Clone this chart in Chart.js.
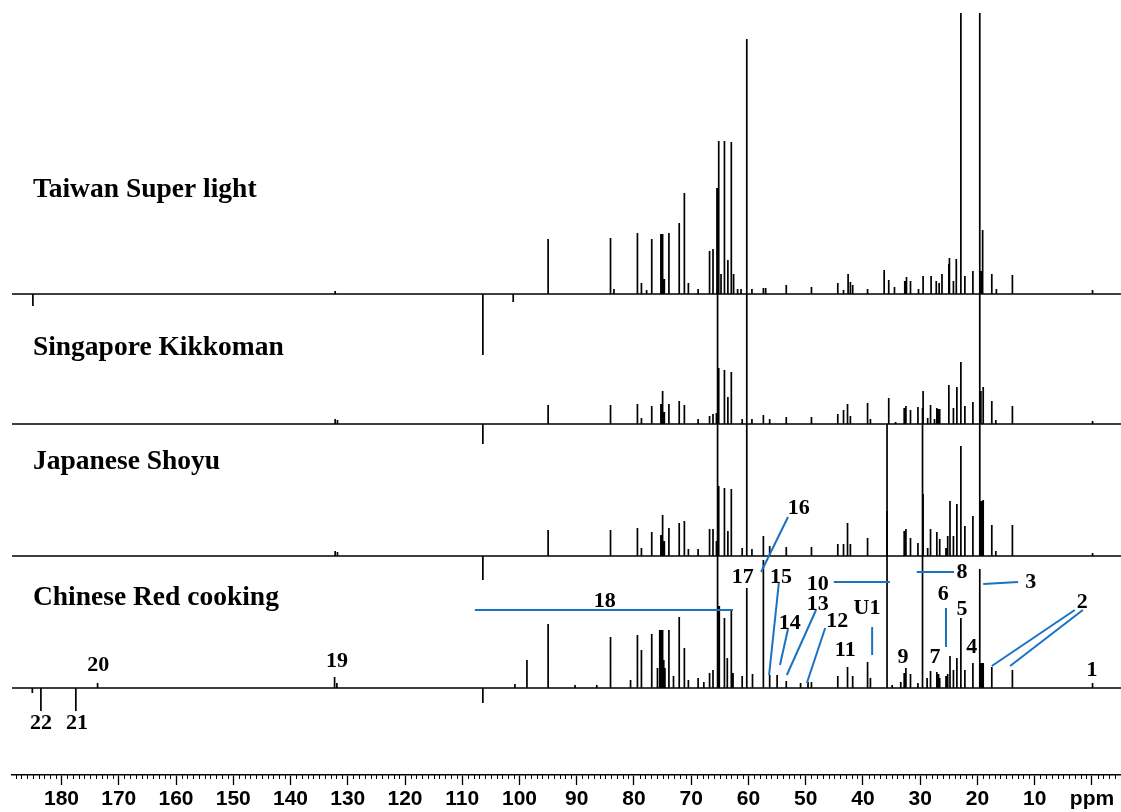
<!DOCTYPE html>
<html>
<head>
<meta charset="utf-8">
<title>13C NMR soy sauces</title>
<script src="https://cdn.jsdelivr.net/npm/chart.js@4.4.1/dist/chart.umd.min.js"></script>
<style>
  body { margin: 0; background: #fff; }
  canvas { display: block; }
</style>
</head>
<body>
<canvas id="nmr" width="1121" height="812"></canvas>
<script>
// trace names, top to bottom
const traceNames = ["Taiwan Super light", "Singapore Kikkoman", "Japanese Shoyu", "Chinese Red cooking"];

// peak positions (ppm) and intensities
const taiwanPpm = [185.0,132.2,106.4,101.1,95.0,84.1,83.5,79.4,78.7,77.8,76.9,75.3,75.0,74.7,73.9,72.1,71.2,70.5,68.8,66.8,66.2,65.5,65.2,64.8,64.2,63.6,63.0,62.6,61.9,61.3,59.4,57.4,57.0,53.4,49.0,44.4,43.4,42.6,42.2,41.8,39.2,36.3,35.5,34.5,32.7,32.4,31.7,30.3,29.5,28.1,27.2,26.7,26.2,25.0,24.9,24.2,23.7,22.9,22.2,20.8,19.4,19.1,17.5,16.7,13.9,-0.1];
const taiwanInt = [-12,3,-61,-8,55,56,5,61,11,4,55,60,60,15,61,71,101,11,5,43,45,106,153,20,153,34,152,20,5,5,5,6,6,9,7,11,4,20,12,9,5,24,14,7,13,17,13,5,18,18,13,11,20,30,36,13,35,281,18,23,23,64,20,5,19,4];

const singaporePpm = [132.2,131.8,106.4,95.0,84.1,79.4,78.7,76.9,75.3,75.0,74.7,73.9,72.1,71.2,68.8,66.8,66.2,65.6,65.2,64.2,63.6,63.0,61.1,59.4,57.4,56.3,53.4,49.0,44.4,43.4,42.7,42.2,39.2,38.7,35.5,34.3,32.8,32.5,31.7,30.4,29.5,28.7,28.2,27.5,27.1,26.8,26.6,25.0,24.2,23.6,22.9,22.2,20.8,19.4,19.0,17.5,16.8,13.9,-0.1];
const singaporeInt = [5,4,-20,19,19,20,6,18,20,33,12,20,23,19,5,8,10,11,56,54,27,52,5,5,9,5,7,7,10,14,20,8,21,5,26,2,16,18,14,17,33,6,19,5,16,15,15,39,16,37,62,18,22,33,37,23,4,18,3];

const japanesePpm = [132.2,131.8,106.4,95.0,84.1,79.4,78.7,76.9,75.3,75.0,74.7,73.9,72.1,71.2,70.5,68.8,66.8,66.2,65.6,65.2,64.2,63.6,63.0,61.1,60.3,59.4,57.4,56.3,53.4,49.0,44.4,43.4,42.7,42.2,39.2,35.8,32.8,32.5,31.7,30.4,29.5,28.7,28.2,27.1,26.6,25.5,25.2,24.8,24.2,23.6,22.9,22.2,20.8,19.6,19.3,19.0,17.5,16.8,13.9,-0.1];
const japaneseInt = [5,4,-24,26,26,28,8,24,21,41,15,28,33,35,7,7,27,27,15,70,68,25,67,8,517,7,20,10,9,9,12,12,33,12,18,45,25,27,18,13,62,8,27,24,17,8,20,55,20,52,110,30,40,543,55,56,31,5,31,3];

const chinesePpm = [185.1,183.6,177.5,173.7,132.3,131.9,106.4,100.8,98.7,95.0,90.3,86.5,84.1,80.6,79.4,78.7,76.9,75.9,75.5,75.3,75.0,74.8,74.6,73.9,73.1,72.1,71.2,70.5,68.8,67.8,66.8,66.2,65.4,65.1,64.2,63.7,63.0,62.7,61.1,60.3,59.3,57.4,56.3,55.0,53.4,50.9,49.6,49.0,44.4,42.7,41.8,39.2,38.7,35.8,34.9,33.4,32.8,32.5,31.7,30.4,29.6,28.8,28.2,27.1,26.8,26.6,25.5,25.2,24.8,24.2,23.6,22.9,22.2,20.8,19.6,19.3,19.0,17.5,13.9,-0.1];
const chineseInt = [-5,-23,-23,5,11,5,-15,4,28,64,3,3,51,8,53,38,54,20,58,58,58,28,20,58,12,71,40,8,10,6,15,18,500,82,70,30,79,15,12,100,14,128,13,13,7,5,6,6,12,21,12,26,10,264,3,6,15,20,14,5,280,10,17,16,14,10,12,14,32,18,30,70,18,25,119,25,25,21,18,5];

// axis ticks
const tickValues = [180,170,160,150,140,130,120,110,100,90,80,70,60,50,40,30,20,10,0];
const tickLabels = ["180","170","160","150","140","130","120","110","100","90","80","70","60","50","40","30","20","10","ppm"];

// numbered peak assignments (ppm, height on the stacked scale)
const peakLabelText = ["1","2","3","4","5","6","7","8","9","10","11","12","13","14","15","16","17","18","19","20","21","22","U1"];
const peakLabelPpm  = [0.0,1.7,10.7,21.0,22.7,26.0,27.4,22.7,33.0,47.9,43.1,44.5,47.9,52.8,54.3,51.2,61.0,85.1,131.9,173.6,177.3,183.6,39.3];
const peakLabelY    = [105,173,193,128,166,181,118,203,118,191,125,154,171,152,198,267,198,174,114,110,52,52,167];

// blue leader lines
const leaderFromPpm = [62.7,53.1,54.7,45.1,48.2,53.1,46.6,38.4,30.6,19.0,25.5,3.0,1.6];
const leaderFromY   = [165,258,192,193,165,146,147,148,203,191,167,165,165];
const leaderToPpm   = [107.8,57.8,56.4,35.3,53.3,54.5,49.8,38.4,24.1,12.9,25.5,17.5,14.3];
const leaderToY     = [165,203,100,193,100,110,92,120,203,193,128,109,109];

// vertical stacking of the four traces
const traceOffsets = [481, 351, 219, 87];
const ppmMin = -5.07, ppmMax = 188.65;

function stickLine(ppm, inten, offset) {
  const peaks = ppm.map((p, i) => [p, inten[i]]).sort((a, b) => b[0] - a[0]);
  const pts = [{ x: ppmMax, y: offset }];
  peaks.forEach(([p, h]) => {
    pts.push({ x: p, y: offset }, { x: p, y: offset + h }, { x: p, y: offset });
  });
  pts.push({ x: ppmMin, y: offset });
  return pts;
}

const traces = [
  stickLine(taiwanPpm, taiwanInt, traceOffsets[0]),
  stickLine(singaporePpm, singaporeInt, traceOffsets[1]),
  stickLine(japanesePpm, japaneseInt, traceOffsets[2]),
  stickLine(chinesePpm, chineseInt, traceOffsets[3])
];

const labelsPlugin = {
  id: "nmrLabels",
  afterDraw(chart) {
    const { ctx, chartArea } = chart;
    const x = chart.scales.x, y = chart.scales.y;
    ctx.save();

    // minor ticks every 1 ppm
    ctx.strokeStyle = "#000";
    ctx.lineWidth = 1;
    ctx.beginPath();
    for (let v = Math.ceil(ppmMin); v <= ppmMax; v++) {
      if (v % 10 === 0) continue;
      const px = Math.round(x.getPixelForValue(v)) + 0.5;
      ctx.moveTo(px, chartArea.bottom);
      ctx.lineTo(px, chartArea.bottom + 4);
    }
    ctx.stroke();

    // leader lines
    ctx.strokeStyle = "#1a72c0";
    ctx.lineWidth = 2;
    leaderFromPpm.forEach((p, i) => {
      ctx.beginPath();
      ctx.moveTo(x.getPixelForValue(p), y.getPixelForValue(leaderFromY[i]));
      ctx.lineTo(x.getPixelForValue(leaderToPpm[i]), y.getPixelForValue(leaderToY[i]));
      ctx.stroke();
    });

    // trace names
    ctx.fillStyle = "#000";
    ctx.textBaseline = "middle";
    ctx.textAlign = "left";
    ctx.font = "bold 27.5px 'Liberation Serif', 'Times New Roman', serif";
    const nameY = [585, 427, 313, 177];
    traceNames.forEach((n, i) => {
      ctx.fillText(n, x.getPixelForValue(185.0), y.getPixelForValue(nameY[i]));
    });

    // peak numbers
    ctx.textAlign = "center";
    ctx.font = "bold 22px 'Liberation Serif', 'Times New Roman', serif";
    peakLabelText.forEach((t, i) => {
      ctx.fillText(t, x.getPixelForValue(peakLabelPpm[i]), y.getPixelForValue(peakLabelY[i]));
    });
    ctx.restore();
  }
};

new Chart(document.getElementById("nmr"), {
  type: "scatter",
  data: {
    datasets: traces.map((d, i) => ({
      label: traceNames[i],
      data: d,
      showLine: true,
      borderColor: "#000",
      borderWidth: 1.7,
      pointRadius: 0,
      tension: 0,
      fill: false
    }))
  },
  options: {
    responsive: false,
    animation: false,
    devicePixelRatio: 1,
    layout: { padding: { left: 12, right: 0, top: 0, bottom: 0 } },
    plugins: {
      legend: { display: false },
      tooltip: { enabled: false }
    },
    scales: {
      x: {
        type: "linear",
        reverse: true,
        min: ppmMin,
        max: ppmMax,
        afterBuildTicks: (scale) => { scale.ticks = tickValues.map(v => ({ value: v })); },
        afterFit: (scale) => { scale.height = 37; },
        border: { display: true, color: "#000", width: 1.5 },
        grid: {
          display: true,
          drawOnChartArea: false,
          drawTicks: true,
          tickLength: 10,
          tickColor: "#000",
          tickWidth: 1.3
        },
        ticks: {
          autoSkip: false,
          maxRotation: 0,
          padding: 2,
          color: "#000",
          font: { family: "'Liberation Sans', Arial, sans-serif", weight: "bold", size: 21 },
          callback: (v, i) => tickLabels[i]
        }
      },
      y: {
        display: false,
        min: 0,
        max: 775
      }
    }
  },
  plugins: [labelsPlugin]
});
</script>
</body>
</html>
